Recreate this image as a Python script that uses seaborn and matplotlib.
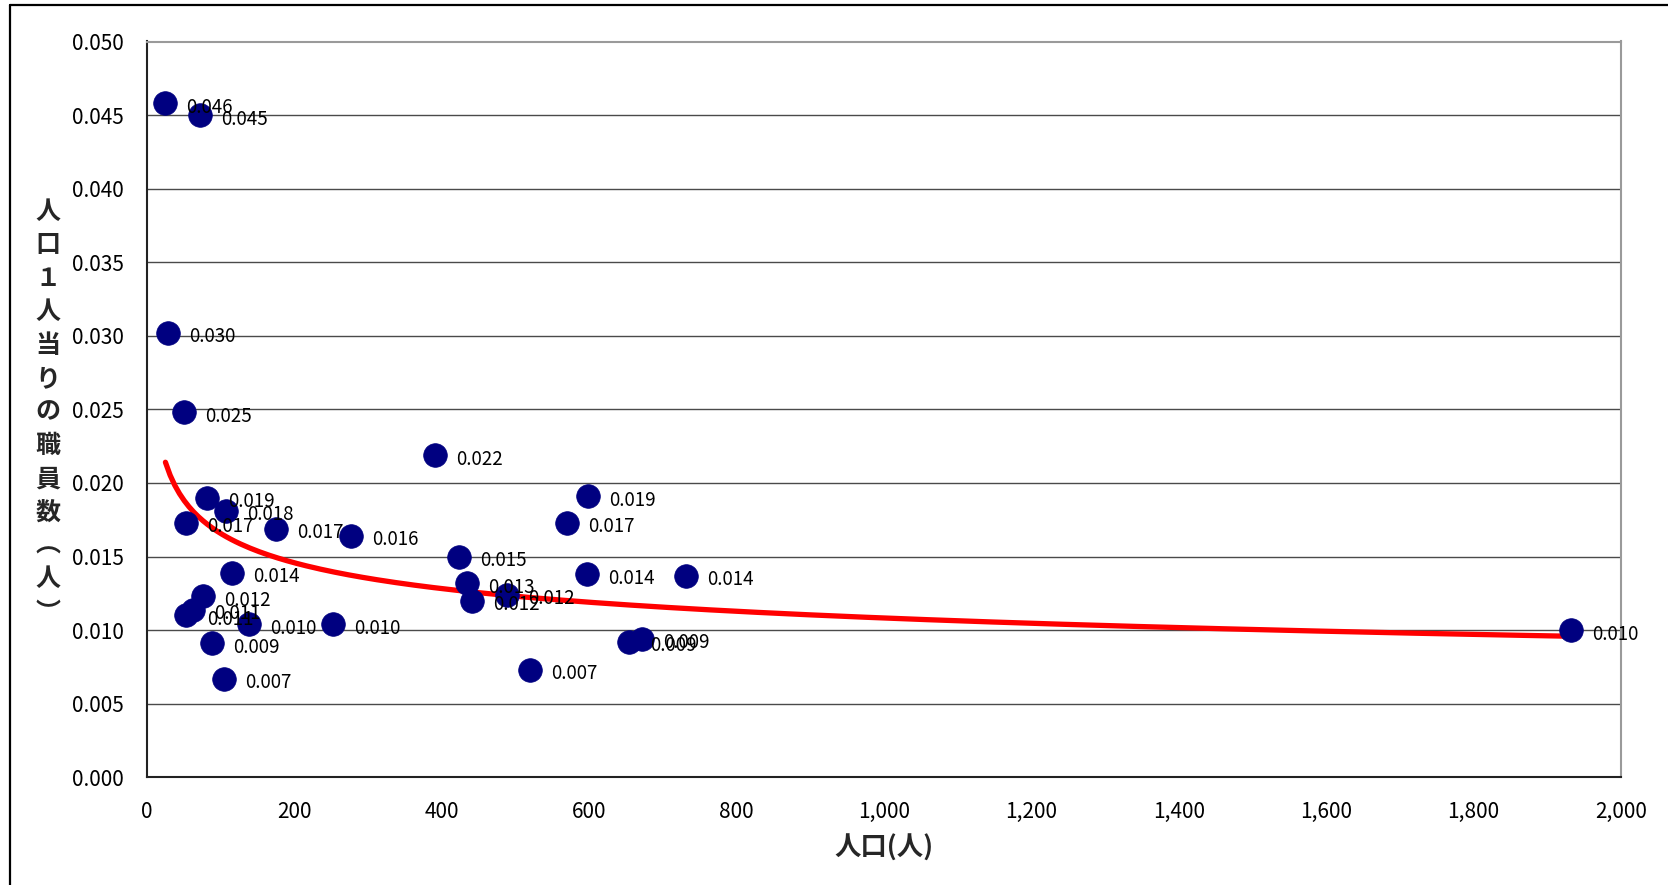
import numpy as np
import pandas as pd
import matplotlib
matplotlib.use("Agg")
import matplotlib.pyplot as plt
from matplotlib.lines import Line2D
from matplotlib.ticker import FuncFormatter
import seaborn as sns

# ---- data ----
population = [25, 72, 29, 50, 391, 81, 107, 53, 175, 277, 424, 116, 434, 488, 441,
              76, 63, 53, 138, 252, 88, 105, 520, 598, 570, 597, 731, 654, 672, 1932]
staff_per_person = [0.0458, 0.0450, 0.0302, 0.0248, 0.0219, 0.0190, 0.0181, 0.0173,
                    0.0169, 0.0164, 0.0150, 0.0139, 0.0132, 0.0124, 0.0120, 0.0123,
                    0.0114, 0.0110, 0.0104, 0.0104, 0.0091, 0.0067, 0.0073, 0.0191,
                    0.0173, 0.0138, 0.0137, 0.0092, 0.0094, 0.0100]
x_ticks = list(range(0, 2001, 200))
y_ticks = [round(0.005 * i, 3) for i in range(11)]
y_label_chars = ["人", "口", "１", "人", "当", "り", "の", "職", "員", "数", "︵", "人", "︶"]
x_label = "人口(人)"

df = pd.DataFrame({"pop": population, "ratio": staff_per_person})

# power trend line fitted from the data (least squares in log-log space)
b, log_a = np.polyfit(np.log(df["pop"]), np.log(df["ratio"]), 1)
xs = np.linspace(df["pop"].min(), df["pop"].max(), 300)
trend = pd.DataFrame({"pop": xs, "ratio": np.exp(log_a) * xs ** b})

# ---- style ----
sns.set_style("white")
plt.rcParams["font.family"] = ["Noto Sans CJK JP", "DejaVu Sans"]

W, H = 1668, 885
fig = plt.figure(figsize=(W / 100, H / 100), dpi=100)
ax = fig.add_axes([147 / W, 1 - 777.3 / H, (1621 - 147) / W, (777.3 - 41.5) / H])

ax.set_xlim(0, 2000)
ax.set_ylim(0, 0.05)
ax.set_xticks(x_ticks)
ax.set_yticks(y_ticks)
ax.xaxis.set_major_formatter(FuncFormatter(lambda v, p: f"{v:,.0f}"))
ax.yaxis.set_major_formatter(FuncFormatter(lambda v, p: f"{v:.3f}"))

ax.yaxis.grid(True, color="#4a4a4a", lw=1.0, zorder=0)
ax.xaxis.grid(False)
ax.set_axisbelow(True)

for side in ["left", "bottom"]:
    ax.spines[side].set_color("#222222")
    ax.spines[side].set_linewidth(1.5)
for side in ["top", "right"]:
    ax.spines[side].set_color("#9a9a9a")
    ax.spines[side].set_linewidth(1.5)

ax.tick_params(axis="both", direction="in", length=6, width=1, color="#222222",
               labelsize=15, labelcolor="black")
ax.tick_params(axis="y", pad=17)
ax.tick_params(axis="x", pad=17)

sns.lineplot(data=trend, x="pop", y="ratio", ax=ax, color="#ff0000", lw=3.8,
             zorder=3, legend=False)
sns.scatterplot(data=df, x="pop", y="ratio", ax=ax, s=290, color="#000080",
                edgecolor="#000080", linewidth=0.5, zorder=4, legend=False)

for xv, yv in zip(population, staff_per_person):
    ax.annotate(f"{yv:.3f}", (xv, yv), xytext=(21, -4), textcoords="offset pixels",
                ha="left", va="center", fontsize=13.5, color="black", zorder=5)

ax.set_xlabel("")
ax.set_ylabel("")

# axis titles
fig.text(884 / W, 1 - 848 / H, x_label, ha="center", va="center",
         fontsize=19, fontweight="bold")
y0, step = 212, 33.4
for i, ch in enumerate(y_label_chars):
    fig.text(48 / W, 1 - (y0 + i * step) / H, ch, ha="center", va="center",
             fontsize=18, fontweight="bold")

# outer chart border (left and top edges visible)
fig.add_artist(Line2D([10 / W, 10 / W], [0, 1 - 5 / H], transform=fig.transFigure,
                      color="black", lw=1.6))
fig.add_artist(Line2D([10 / W, 1], [1 - 5 / H, 1 - 5 / H], transform=fig.transFigure,
                      color="black", lw=1.6))

fig.savefig("out.png", dpi=100)
